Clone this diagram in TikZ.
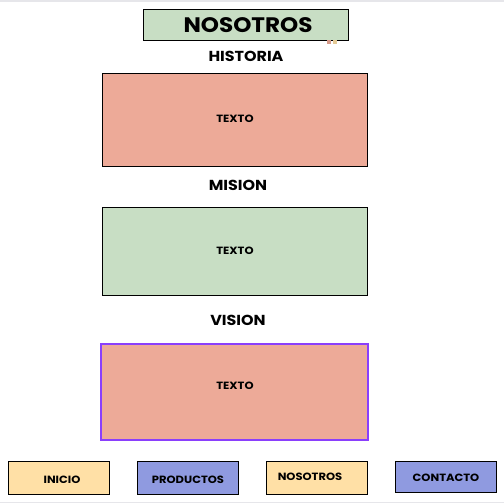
\documentclass[tikz,border=0pt]{standalone}
\usepackage{fontspec}
\setmainfont{Poppins}[UprightFont=*-Bold,FakeStretch=1.1]
\definecolor{sage}{HTML}{C8DEC4}
\definecolor{salmon}{HTML}{EDAA98}
\definecolor{cream}{HTML}{FFE0A6}
\definecolor{peri}{HTML}{8F9AE0}
\definecolor{violetedge}{HTML}{8A3FFC}
\definecolor{frame}{HTML}{E6E6EA}
\begin{document}
\begin{tikzpicture}[x=1pt,y=-1pt,
  panel/.style={draw=black,line width=0.8pt,inner sep=0pt,outer sep=0pt,anchor=north west},
  heading/.style={font=\fontsize{14.5}{16}\selectfont},
  small/.style={font=\fontsize{10.5}{12}\selectfont},
  navbtn/.style={panel,minimum width=101pt,minimum height=33pt}]
\useasboundingbox (0,0) rectangle (504,504);
\fill[white] (0,0) rectangle (504,504);
% thin frame lines at top and bottom
\draw[frame,line width=1.5pt] (0,0.75) -- (504,0.75);
\draw[frame,line width=1.5pt] (0,502.5) -- (504,502.5);

% title
\node[panel,fill=sage,minimum width=205pt,minimum height=31pt] (title) at (143,9) {};
\node[font=\fontsize{21}{24}\selectfont] (titletxt) at (248,25) {NOSOTROS};
\fill[salmon!90!black] (327,40) rectangle (331,44);
\fill[cream!90!black] (333,40) rectangle (337,44);

% sections
\node[heading] (h1) at (246,56) {HISTORIA};
\node[panel,fill=salmon,minimum width=265pt,minimum height=93pt] (b1) at (102,73) {};
\node[small] (t1) at (235,119) {TEXTO};

\node[heading] (h2) at (238,185) {MISION};
\node[panel,fill=sage,minimum width=265pt,minimum height=88pt] (b2) at (102,207) {};
\node[small] (t2) at (235,251) {TEXTO};

\node[heading] (h3) at (238,320) {VISION};
\node[panel,draw=violetedge,line width=2pt,fill=salmon,minimum width=267pt,minimum height=96pt] (b3) at (101,344) {};
\node[small] (t3) at (235,386) {TEXTO};

% navigation bar
\node[navbtn,fill=cream] (n1) at (8,461) {};
\node[small] at (62,480) {INICIO};
\node[navbtn,fill=peri] (n2) at (137,461) {};
\node[small] at (188,480) {PRODUCTOS};
\node[navbtn,fill=cream] (n3) at (266,461) {};
\node[small] at (310,477) {NOSOTROS};
\node[navbtn,fill=peri,minimum height=31pt] (n4) at (395,461) {};
\node[small] at (446,478) {CONTACTO};
\end{tikzpicture}
\end{document}
